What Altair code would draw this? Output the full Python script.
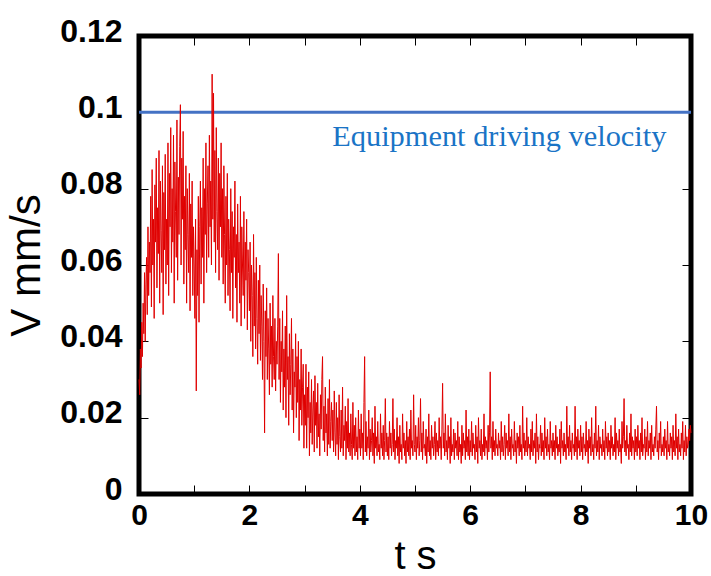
import altair as alt
import pandas as pd

# Velocity samples (mm/s), every 0.0125 s, one list per half second
v_00_05 = [0.030, 0.026, 0.038, 0.033, 0.045, 0.036, 0.050, 0.042, 0.058, 0.040,
           0.055, 0.062, 0.047, 0.070, 0.052, 0.066, 0.058, 0.078, 0.049, 0.085,
           0.060, 0.072, 0.046, 0.081, 0.066, 0.088, 0.054, 0.075, 0.063, 0.090,
           0.050, 0.082, 0.069, 0.058, 0.086, 0.047, 0.079, 0.064, 0.089, 0.055]
v_05_10 = [0.072, 0.060, 0.092, 0.052, 0.084, 0.070, 0.096, 0.058, 0.080, 0.066,
           0.094, 0.050, 0.087, 0.074, 0.062, 0.098, 0.056, 0.083, 0.068, 0.091,
           0.102, 0.060, 0.088, 0.072, 0.095, 0.055, 0.078, 0.064, 0.086, 0.050,
           0.080, 0.068, 0.058, 0.084, 0.048, 0.076, 0.062, 0.082, 0.052, 0.070]
v_10_15 = [0.060, 0.046, 0.072, 0.027, 0.064, 0.052, 0.078, 0.045, 0.070, 0.082,
           0.055, 0.075, 0.062, 0.088, 0.050, 0.080, 0.068, 0.092, 0.058, 0.076,
           0.086, 0.062, 0.094, 0.070, 0.082, 0.060, 0.110, 0.072, 0.105, 0.066,
           0.090, 0.058, 0.096, 0.074, 0.064, 0.088, 0.056, 0.084, 0.070, 0.092]
v_15_20 = [0.062, 0.080, 0.055, 0.086, 0.068, 0.050, 0.078, 0.060, 0.084, 0.052,
           0.072, 0.064, 0.048, 0.080, 0.058, 0.074, 0.046, 0.070, 0.062, 0.082,
           0.054, 0.068, 0.045, 0.076, 0.058, 0.066, 0.050, 0.078, 0.044, 0.070,
           0.060, 0.052, 0.074, 0.046, 0.066, 0.056, 0.072, 0.043, 0.064, 0.058]
v_20_25 = [0.048, 0.066, 0.040, 0.060, 0.052, 0.036, 0.068, 0.044, 0.058, 0.038,
           0.062, 0.046, 0.034, 0.056, 0.042, 0.060, 0.035, 0.052, 0.044, 0.030,
           0.055, 0.040, 0.016, 0.048, 0.036, 0.054, 0.030, 0.046, 0.038, 0.026,
           0.050, 0.034, 0.044, 0.028, 0.052, 0.036, 0.030, 0.046, 0.027, 0.040]
v_25_30 = [0.034, 0.044, 0.063, 0.030, 0.046, 0.024, 0.040, 0.032, 0.048, 0.022,
           0.038, 0.028, 0.044, 0.020, 0.052, 0.030, 0.036, 0.018, 0.042, 0.026,
           0.034, 0.046, 0.022, 0.038, 0.016, 0.032, 0.028, 0.042, 0.020, 0.036,
           0.024, 0.040, 0.014, 0.030, 0.022, 0.038, 0.018, 0.028, 0.034, 0.012]
v_30_35 = [0.026, 0.018, 0.034, 0.012, 0.028, 0.020, 0.032, 0.010, 0.024, 0.016,
           0.030, 0.013, 0.022, 0.027, 0.011, 0.031, 0.018, 0.024, 0.012, 0.029,
           0.015, 0.021, 0.010, 0.026, 0.017, 0.030, 0.036, 0.014, 0.023, 0.011,
           0.028, 0.016, 0.021, 0.010, 0.025, 0.013, 0.030, 0.012, 0.019, 0.024]
v_35_40 = [0.014, 0.022, 0.011, 0.027, 0.016, 0.010, 0.024, 0.013, 0.020, 0.009,
           0.026, 0.015, 0.011, 0.022, 0.012, 0.028, 0.010, 0.018, 0.014, 0.023,
           0.009, 0.019, 0.012, 0.025, 0.011, 0.016, 0.010, 0.021, 0.013, 0.009,
           0.024, 0.012, 0.018, 0.010, 0.020, 0.011, 0.015, 0.009, 0.022, 0.012]
v_40_45 = [0.017, 0.010, 0.021, 0.012, 0.016, 0.009, 0.024, 0.036, 0.011, 0.019,
           0.010, 0.015, 0.012, 0.022, 0.009, 0.017, 0.011, 0.014, 0.020, 0.010,
           0.016, 0.008, 0.023, 0.012, 0.015, 0.010, 0.019, 0.011, 0.013, 0.009,
           0.021, 0.012, 0.016, 0.010, 0.018, 0.009, 0.014, 0.025, 0.011, 0.016]
v_45_50 = [0.010, 0.015, 0.009, 0.019, 0.012, 0.016, 0.010, 0.013, 0.025, 0.011,
           0.017, 0.009, 0.014, 0.012, 0.020, 0.010, 0.015, 0.008, 0.018, 0.011,
           0.013, 0.009, 0.021, 0.012, 0.016, 0.010, 0.014, 0.008, 0.019, 0.011,
           0.015, 0.010, 0.017, 0.009, 0.022, 0.012, 0.014, 0.010, 0.026, 0.013]
v_50_55 = [0.011, 0.018, 0.009, 0.015, 0.012, 0.020, 0.010, 0.014, 0.025, 0.011,
           0.016, 0.009, 0.019, 0.012, 0.013, 0.010, 0.017, 0.008, 0.015, 0.011,
           0.021, 0.010, 0.014, 0.009, 0.018, 0.012, 0.015, 0.010, 0.013, 0.019,
           0.009, 0.016, 0.011, 0.014, 0.010, 0.020, 0.012, 0.015, 0.009, 0.017]
v_55_60 = [0.029, 0.012, 0.016, 0.010, 0.021, 0.011, 0.014, 0.009, 0.018, 0.012,
           0.015, 0.008, 0.020, 0.010, 0.013, 0.011, 0.017, 0.009, 0.016, 0.012,
           0.014, 0.010, 0.019, 0.009, 0.015, 0.011, 0.013, 0.008, 0.018, 0.010,
           0.016, 0.012, 0.014, 0.009, 0.022, 0.011, 0.015, 0.010, 0.017, 0.009]
v_60_65 = [0.014, 0.011, 0.019, 0.010, 0.016, 0.012, 0.013, 0.009, 0.018, 0.011,
           0.015, 0.008, 0.020, 0.012, 0.014, 0.010, 0.017, 0.009, 0.013, 0.011,
           0.021, 0.010, 0.015, 0.012, 0.014, 0.009, 0.018, 0.011, 0.016, 0.032,
           0.012, 0.015, 0.009, 0.019, 0.011, 0.014, 0.010, 0.017, 0.012, 0.013]
v_65_70 = [0.010, 0.016, 0.012, 0.014, 0.009, 0.019, 0.011, 0.015, 0.010, 0.013,
           0.018, 0.009, 0.016, 0.012, 0.014, 0.010, 0.021, 0.011, 0.015, 0.009,
           0.017, 0.012, 0.013, 0.010, 0.019, 0.011, 0.014, 0.008, 0.016, 0.012,
           0.015, 0.010, 0.018, 0.011, 0.013, 0.009, 0.023, 0.012, 0.016, 0.010]
v_70_75 = [0.014, 0.011, 0.020, 0.010, 0.015, 0.012, 0.013, 0.009, 0.017, 0.011,
           0.019, 0.010, 0.014, 0.012, 0.016, 0.008, 0.021, 0.011, 0.015, 0.009,
           0.013, 0.012, 0.018, 0.010, 0.016, 0.011, 0.014, 0.009, 0.020, 0.012,
           0.015, 0.010, 0.017, 0.011, 0.013, 0.009, 0.019, 0.012, 0.014, 0.010]
v_75_80 = [0.016, 0.011, 0.014, 0.009, 0.018, 0.012, 0.015, 0.010, 0.013, 0.011,
           0.017, 0.008, 0.019, 0.012, 0.014, 0.010, 0.016, 0.011, 0.013, 0.009,
           0.023, 0.012, 0.015, 0.010, 0.018, 0.011, 0.014, 0.009, 0.016, 0.012,
           0.013, 0.010, 0.023, 0.011, 0.015, 0.009, 0.017, 0.012, 0.014, 0.010]
v_80_85 = [0.018, 0.011, 0.015, 0.009, 0.016, 0.012, 0.013, 0.010, 0.019, 0.011,
           0.014, 0.008, 0.017, 0.012, 0.015, 0.010, 0.020, 0.011, 0.013, 0.009,
           0.016, 0.012, 0.023, 0.010, 0.014, 0.011, 0.018, 0.009, 0.015, 0.012,
           0.013, 0.010, 0.017, 0.011, 0.014, 0.009, 0.019, 0.012, 0.015, 0.010]
v_85_90 = [0.016, 0.011, 0.014, 0.009, 0.018, 0.012, 0.015, 0.010, 0.013, 0.011,
           0.020, 0.009, 0.016, 0.012, 0.014, 0.010, 0.017, 0.011, 0.013, 0.008,
           0.019, 0.012, 0.015, 0.025, 0.011, 0.014, 0.010, 0.018, 0.012, 0.013,
           0.009, 0.016, 0.011, 0.021, 0.010, 0.015, 0.012, 0.014, 0.009, 0.017]
v_90_95 = [0.011, 0.015, 0.010, 0.018, 0.012, 0.014, 0.009, 0.016, 0.011, 0.020,
           0.010, 0.013, 0.012, 0.017, 0.009, 0.015, 0.011, 0.019, 0.010, 0.014,
           0.012, 0.016, 0.009, 0.018, 0.011, 0.013, 0.010, 0.015, 0.012, 0.017,
           0.023, 0.011, 0.014, 0.009, 0.016, 0.012, 0.019, 0.010, 0.013, 0.011]
v_95_100 = [0.015, 0.010, 0.017, 0.012, 0.014, 0.009, 0.019, 0.011, 0.013, 0.010,
            0.016, 0.012, 0.015, 0.009, 0.018, 0.011, 0.014, 0.010, 0.021, 0.012,
            0.015, 0.009, 0.017, 0.011, 0.013, 0.010, 0.016, 0.012, 0.019, 0.009,
            0.014, 0.011, 0.018, 0.010, 0.015, 0.012, 0.013, 0.017, 0.014, 0.018,
            0.016]

velocity = (v_00_05 + v_05_10 + v_10_15 + v_15_20 + v_20_25 + v_25_30 + v_30_35
            + v_35_40 + v_40_45 + v_45_50 + v_50_55 + v_55_60 + v_60_65 + v_65_70
            + v_70_75 + v_75_80 + v_80_85 + v_85_90 + v_90_95 + v_95_100)
sample_step = 0.0125
time = [round(i * sample_step, 4) for i in range(len(velocity))]

driving_velocity = [0.1]
note_text = ["Equipment driving velocity"]
note_t = [3.5]
note_v = [0.0912]

x_ticks = list(range(11))
y_ticks = [0, 0.02, 0.04, 0.06, 0.08, 0.1, 0.12]

signal = pd.DataFrame({"t": time, "v": velocity})
rule_df = pd.DataFrame({"level": driving_velocity})
note_df = pd.DataFrame({"t": note_t, "v": note_v, "label": note_text})

xscale = alt.Scale(domain=[0, 10], nice=False, zero=False)
yscale = alt.Scale(domain=[0, 0.12], nice=False)

FONT = "Liberation Sans"

x_bottom = alt.Axis(orient="bottom", values=x_ticks,
                    labelExpr="datum.value % 2 == 0 ? datum.label : ''",
                    tickSize=9, offset=-9, domain=False, grid=False,
                    tickColor="black", tickWidth=1,
                    labelFont=FONT, labelFontSize=30, labelFontWeight="bold",
                    labelColor="black",
                    labelPadding=6, labelFlush=False, labelOverlap=False,
                    title="t s", titleFont=FONT, titleFontSize=40,
                    titleFontWeight="normal", titleColor="black", titlePadding=6)
y_left = alt.Axis(orient="left", values=y_ticks, format=".2~f",
                  tickSize=9, offset=-9, domain=False, grid=False,
                  tickColor="black", tickWidth=1,
                  labelFont=FONT, labelFontSize=32, labelFontWeight="bold",
                  labelColor="black",
                  labelPadding=17, labelOffset=-5, labelFlush=False,
                  labelOverlap=False,
                  title="V mm/s", titleFont=FONT, titleFontSize=42,
                  titleFontWeight="normal", titleColor="black", titlePadding=11)
x_top = alt.Axis(orient="top", values=x_ticks, labels=False, tickSize=9,
                 offset=-9, domain=False, grid=False, tickColor="black",
                 tickWidth=1, title=None)
y_right = alt.Axis(orient="right", values=y_ticks, labels=False, tickSize=9,
                   offset=-9, domain=False, grid=False, tickColor="black",
                   tickWidth=1, title=None)

rule = alt.Chart(rule_df).mark_rule(color="#4472c4", strokeWidth=3).encode(
    y=alt.Y("level:Q", scale=yscale, axis=None)
)

line = alt.Chart(signal).mark_line(color="#e00000", strokeWidth=1).encode(
    x=alt.X("t:Q", scale=xscale, axis=x_bottom),
    y=alt.Y("v:Q", scale=yscale, axis=y_left),
)

note = alt.Chart(note_df).mark_text(
    align="left", baseline="alphabetic", font="Liberation Serif",
    fontSize=30.4, color="#1a74c6"
).encode(
    x=alt.X("t:Q", scale=xscale, axis=x_top),
    y=alt.Y("v:Q", scale=yscale, axis=y_right),
    text="label:N",
)

chart = alt.layer(rule, line, note).resolve_axis(
    x="independent", y="independent"
).properties(
    width=552, height=458,
    autosize=alt.AutoSizeParams(type="none"),
    padding={"left": 139, "top": 36, "right": 20, "bottom": 82},
    background="white",
).configure_view(stroke="black", strokeWidth=5)

chart.save("out.html", embed_options={"renderer": "svg", "actions": False})
